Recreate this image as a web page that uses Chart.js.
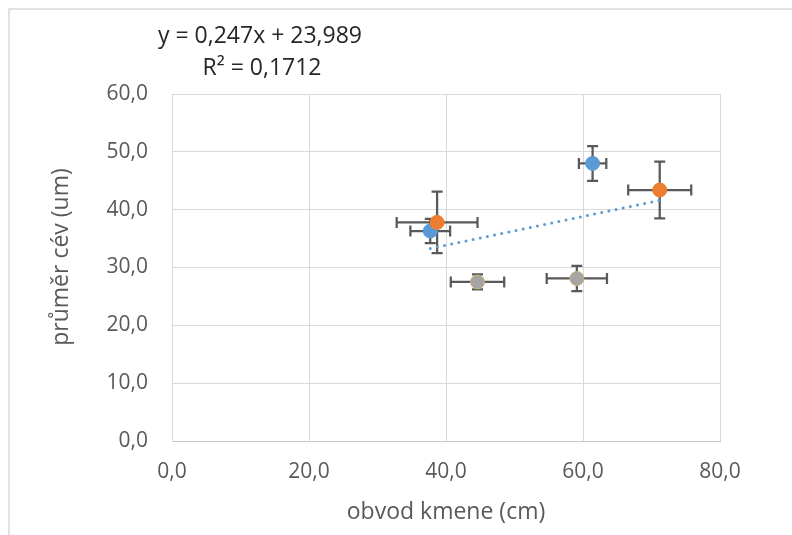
<!DOCTYPE html>
<html>
<head>
<meta charset="utf-8">
<script src="https://cdn.jsdelivr.net/npm/chart.js@4"></script>
<style>
  html, body { margin: 0; padding: 0; background: #ffffff; overflow: hidden; }
  #wrap { width: 792px; height: 535px; }
</style>
</head>
<body>
<div id="wrap"><canvas id="c" width="792" height="535"></canvas></div>
<script>
// ---- data ----
const blueX = [37.7, 61.4];
const blueY = [36.3, 48.0];
const blueXErr = [2.9, 2.0];
const blueYErr = [2.1, 3.0];

const orangeX = [38.7, 71.2];
const orangeY = [37.8, 43.4];
const orangeXErr = [5.9, 4.6];
const orangeYErr = [5.3, 4.9];

const grayX = [44.6, 59.1];
const grayY = [27.5, 28.1];
const grayXErr = [3.9, 4.4];
const grayYErr = [1.3, 2.2];

const trendX = [37.7, 71.2];
const trendY = [33.3, 41.6];

const xTickLabels = ['0,0', '20,0', '40,0', '60,0', '80,0'];
const yTickLabels = ['0,0', '10,0', '20,0', '30,0', '40,0', '50,0', '60,0'];
const equationLines = ['y = 0,247x + 23,989', 'R² = 0,1712'];
const xTitle = 'obvod kmene (cm)';
const yTitle = 'průměr cév (um)';

function pts(xs, ys) { return xs.map((x, i) => ({ x: x, y: ys[i] })); }

const errSets = [
  { xs: blueX, ys: blueY, ex: blueXErr, ey: blueYErr },
  { xs: orangeX, ys: orangeY, ex: orangeXErr, ey: orangeYErr },
  { xs: grayX, ys: grayY, ex: grayXErr, ey: grayYErr }
];

const FONT = "'Open Sans', 'Liberation Sans', sans-serif";
const TEXT = '#595959';

const framePlugin = {
  id: 'frame',
  beforeDraw(chart) {
    const ctx = chart.ctx;
    ctx.save();
    ctx.fillStyle = '#ffffff';
    ctx.fillRect(0, 0, chart.width, chart.height);
    ctx.strokeStyle = '#d9d9d9';
    ctx.lineWidth = 1.5;
    ctx.strokeRect(9, 9, 900, 700);
    ctx.restore();
  }
};

const errorBarPlugin = {
  id: 'errbars',
  beforeDatasetsDraw(chart) {
    const ctx = chart.ctx;
    const xs = chart.scales.x, ys = chart.scales.y;
    const cap = 5.5;
    ctx.save();
    ctx.strokeStyle = '#595959';
    ctx.lineWidth = 2.25;
    ctx.lineCap = 'butt';
    errSets.forEach(s => {
      s.xs.forEach((xv, i) => {
        const yv = s.ys[i];
        const px = xs.getPixelForValue(xv), py = ys.getPixelForValue(yv);
        const x1 = xs.getPixelForValue(xv - s.ex[i]), x2 = xs.getPixelForValue(xv + s.ex[i]);
        const y1 = ys.getPixelForValue(yv - s.ey[i]), y2 = ys.getPixelForValue(yv + s.ey[i]);
        ctx.beginPath();
        ctx.moveTo(x1, py); ctx.lineTo(x2, py);
        ctx.moveTo(x1, py - cap); ctx.lineTo(x1, py + cap);
        ctx.moveTo(x2, py - cap); ctx.lineTo(x2, py + cap);
        ctx.moveTo(px, y1); ctx.lineTo(px, y2);
        ctx.moveTo(px - cap, y1); ctx.lineTo(px + cap, y1);
        ctx.moveTo(px - cap, y2); ctx.lineTo(px + cap, y2);
        ctx.stroke();
      });
    });
    ctx.restore();
  }
};

const textPlugin = {
  id: 'texts',
  afterDraw(chart) {
    const ctx = chart.ctx;
    ctx.save();
    ctx.fillStyle = '#262626';
    ctx.font = '23px ' + FONT;
    ctx.textAlign = 'center';
    ctx.textBaseline = 'middle';
    ctx.fillText(equationLines[0], 260, 36);
    ctx.fillText(equationLines[1], 262, 68);
    // y axis title
    ctx.fillStyle = TEXT;
    ctx.translate(61.5, 257);
    ctx.rotate(-Math.PI / 2);
    ctx.fillText(yTitle, 0, 0);
    ctx.restore();
  }
};

new Chart(document.getElementById('c'), {
  type: 'scatter',
  data: {
    datasets: [
      {
        type: 'line',
        label: 'trend',
        data: pts(trendX, trendY),
        borderColor: '#5B9BD5',
        borderWidth: 3,
        borderDash: [0, 7.3],
        borderCapStyle: 'round',
        pointRadius: 0,
        fill: false,
        order: 10
      },
      {
        label: 'A',
        data: pts(blueX, blueY),
        backgroundColor: '#5B9BD5',
        borderColor: '#5B9BD5',
        borderWidth: 1,
        pointRadius: 7,
        order: 2
      },
      {
        label: 'B',
        data: pts(orangeX, orangeY),
        backgroundColor: '#ED7D31',
        borderColor: '#ED7D31',
        borderWidth: 1,
        pointRadius: 7,
        order: 1
      },
      {
        label: 'C',
        data: pts(grayX, grayY),
        backgroundColor: '#A5A5A5',
        borderColor: '#C9B36B',
        borderWidth: 1,
        pointRadius: 7,
        order: 3
      }
    ]
  },
  options: {
    responsive: false,
    animation: false,
    layout: { padding: { left: 0, right: 72, top: 94, bottom: 0 } },
    plugins: {
      legend: { display: false },
      tooltip: { enabled: false }
    },
    scales: {
      x: {
        type: 'linear',
        min: 0, max: 80,
        ticks: {
          stepSize: 20,
          padding: 18,
          color: TEXT,
          font: { family: FONT, size: 21 },
          callback: (v) => xTickLabels[Math.round(v / 20)]
        },
        grid: { color: '#d9d9d9', lineWidth: 1, drawTicks: false },
        border: { color: '#c8c8c8', width: 1 },
        title: {
          display: true,
          text: xTitle,
          color: TEXT,
          font: { family: FONT, size: 23 },
          padding: { top: 0, bottom: 8.6 }
        },
        afterFit: (s) => { s.height = 94; }
      },
      y: {
        type: 'linear',
        min: 0, max: 60,
        ticks: {
          stepSize: 10,
          padding: 24,
          color: TEXT,
          font: { family: FONT, size: 21 },
          callback: (v) => yTickLabels[Math.round(v / 10)]
        },
        grid: { color: '#d9d9d9', lineWidth: 1, drawTicks: false },
        border: { color: '#d9d9d9', width: 1 },
        title: { display: false },
        afterFit: (s) => { s.width = 172; }
      }
    }
  },
  plugins: [framePlugin, errorBarPlugin, textPlugin]
});
</script>
</body>
</html>
